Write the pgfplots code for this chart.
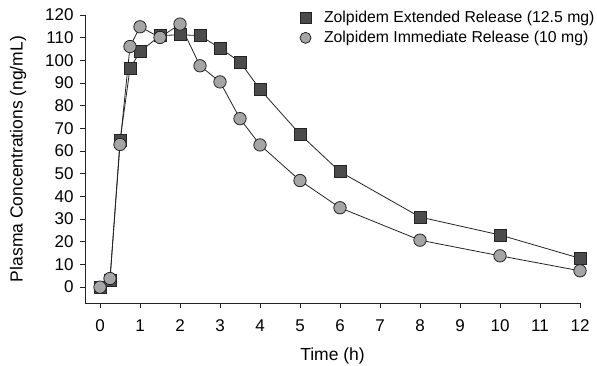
\documentclass[border=0pt]{standalone}
\usepackage{pgfplots}
\pgfplotsset{compat=1.18}
\usepackage{fontspec}
\setmainfont{Liberation Sans}
\definecolor{sqfill}{RGB}{75,75,78}
\definecolor{cifill}{RGB}{165,165,168}
\definecolor{edge}{RGB}{35,35,35}
\begin{document}
\begin{tikzpicture}
\useasboundingbox (-85pt,-63pt) rectangle (512pt,303pt);
\begin{axis}[
  at={(0,0)}, anchor=south west,
  scale only axis, width=495pt, height=288pt,
  xmin=-0.375, xmax=12, ymin=-7, ymax=120,
  axis x line*=bottom, axis y line*=left,
  axis line style={edge, line width=0.8pt, -},
  tick style={edge, line width=0.8pt},
  tick align=outside, major tick length=5pt,
  xtick={0,1,...,12}, ytick={0,10,...,120},
  ticklabel style={font=\fontsize{17}{20}\selectfont},
  label style={font=\fontsize{17.5}{21}\selectfont},
  /pgf/number format/assume math mode=true,
  xticklabel style={yshift=-8pt},
  yticklabel style={xshift=-3pt},
  xlabel={Time (h)}, ylabel={Plasma Concentrations (ng/mL)},
  xlabel style={yshift=-9pt},
  ylabel style={yshift=12pt},
  legend style={draw=none, fill=none, at={(0.434,1.02)}, anchor=north west,
    font=\fontsize{15.8}{18}\selectfont, row sep=3pt, inner sep=0pt,
    /tikz/every odd column/.append style={column sep=11pt}},
  legend cell align=left,
]
\addplot[forget plot, edge, line width=0.8pt, mark=square*, mark size=6pt,
  mark options={fill=sqfill, draw=edge, line width=0.8pt}] coordinates {
(0,0) (0.25,3) (0.5,64.5) (0.75,96.4) (1,103.8) (1.5,110.9) (2,111.3) (2.5,110.9)
(3,105.4) (3.5,99.3) (4,87.2) (5,67.4) (6,50.9) (8,30.9) (10,23) (12,12.7)};
\addplot[forget plot, edge, line width=0.8pt, mark=*, mark size=6.2pt,
  mark options={fill=cifill, draw=edge, line width=0.8pt}] coordinates {
(0,0) (0.25,3.8) (0.5,62.9) (0.75,106.1) (1,114.8) (1.5,110.1) (2,116) (2.5,97.6)
(3,90.5) (3.5,74.3) (4,62.7) (5,47) (6,35) (8,20.7) (10,13.8) (12,7.2)};
\addlegendimage{only marks, mark=square*, mark size=5.5pt, mark options={fill=sqfill, draw=edge, line width=0.8pt}}
\addlegendentry{Zolpidem Extended Release (12.5 mg)}
\addlegendimage{only marks, mark=*, mark size=5.5pt, mark options={fill=cifill, draw=edge, line width=0.8pt}}
\addlegendentry{Zolpidem Immediate Release (10 mg)}
\end{axis}
\end{tikzpicture}
\end{document}
